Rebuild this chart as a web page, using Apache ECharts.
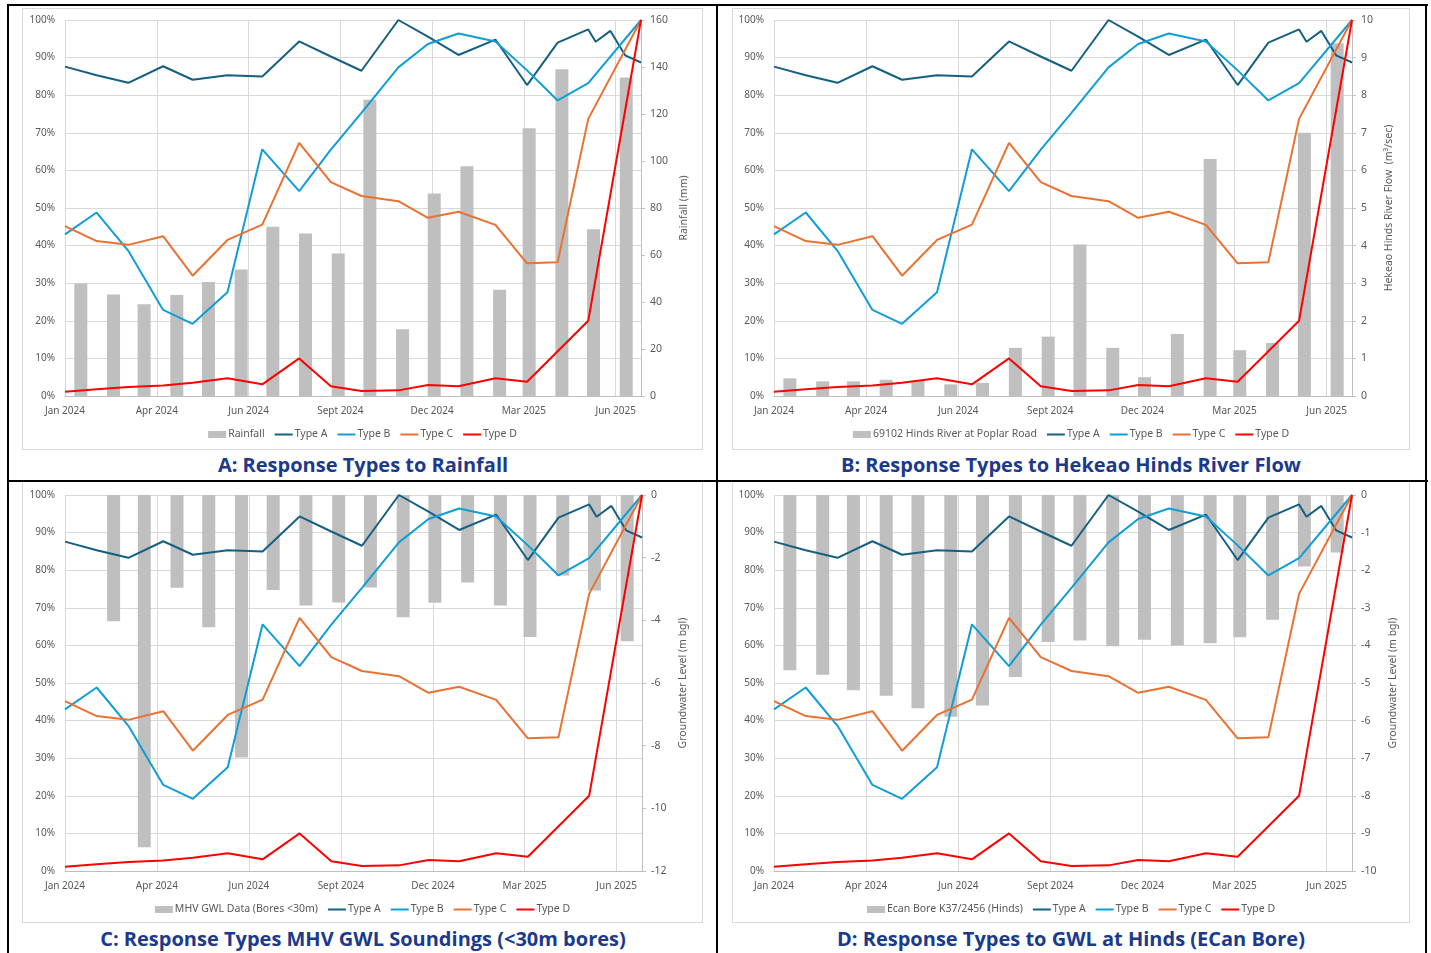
<!DOCTYPE html>
<html>
<head>
<meta charset="utf-8">
<script src="https://cdn.jsdelivr.net/npm/echarts@6/dist/echarts.min.js"></script>
<style>
  html, body { margin: 0; padding: 0; background: #ffffff; }
  #page { position: relative; width: 1431px; height: 953px; overflow: hidden; background: #fff; }
  .rule { position: absolute; background: #000; }
  .box { position: absolute; border: 1px solid #d9d9d9; box-sizing: border-box; background: #fff; }
  .title { position: absolute; width: 700px; text-align: center; font-family: "Open Sans", "Noto Sans", sans-serif;
           font-weight: 700; font-size: 20px; color: #1b3a8c; line-height: 24px; white-space: nowrap; }
</style>
</head>
<body>
<div id="page">
  <div class="box" id="chartA" style="left:22px;top:8px;width:681px;height:442px;"></div>
  <div class="box" id="chartB" style="left:732px;top:8px;width:678px;height:442px;"></div>
  <div class="box" id="chartC" style="left:22px;top:481px;width:681px;height:442px;"></div>
  <div class="box" id="chartD" style="left:732px;top:481px;width:678px;height:442px;"></div>

  <div class="title" style="left:13px;top:453px;">A: Response Types to Rainfall</div>
  <div class="title" style="left:721px;top:453px;">B: Response Types to Hekeao Hinds River Flow</div>
  <div class="title" style="left:13px;top:927px;">C: Response Types MHV GWL Soundings (&lt;30m bores)</div>
  <div class="title" style="left:721px;top:927px;">D: Response Types to GWL at Hinds (ECan Bore)</div>

  <div class="rule" style="left:7px;top:4px;width:1421px;height:2px;"></div>
  <div class="rule" style="left:7px;top:480px;width:1421px;height:2px;"></div>
  <div class="rule" style="left:7px;top:4px;width:2px;height:949px;"></div>
  <div class="rule" style="left:716px;top:4px;width:2px;height:949px;"></div>
  <div class="rule" style="left:1425px;top:4px;width:2px;height:949px;"></div>
</div>
<script>
// ---------- data ----------
const xTickLabels = ['Jan 2024', 'Apr 2024', 'Jun 2024', 'Sept 2024', 'Dec 2024', 'Mar 2025', 'Jun 2025'];
const axisStartDate = '2024-01-05';
const axisEndDate = '2025-07-04';
const tickIntervalDays = 87;

// sampling dates of the response-type percentages
const lineDates = ['2024-01-05', '2024-02-04', '2024-03-05', '2024-04-07', '2024-05-05', '2024-06-07',
  '2024-07-10', '2024-08-14', '2024-09-13', '2024-10-12', '2024-11-16', '2024-12-14', '2025-01-12',
  '2025-02-16', '2025-03-18', '2025-04-16', '2025-05-15', '2025-05-22', '2025-06-05', '2025-06-19', '2025-07-04'];
const typeA = [87.6, 85.3, 83.3, 87.7, 84.1, 85.3, 85.0, 94.3, 90.3, 86.5, 100.0, 95.6, 90.7, 94.8, 82.7, 94.0, 97.5, 94.2, 97.1, 90.6, 88.7];
const typeB = [43.0, 48.8, 38.6, 22.9, 19.2, 27.6, 65.6, 54.5, 65.5, 75.3, 87.4, 93.6, 96.4, 94.3, 86.6, 78.6, 83.2, null, null, null, 100];
const typeC = [45.2, 41.2, 40.2, 42.5, 32.0, 41.5, 45.6, 67.3, 56.9, 53.2, 51.8, 47.4, 49.0, 45.5, 35.3, 35.6, 73.7, null, null, null, 100];
const typeD = [1.1, 1.8, 2.4, 2.8, 3.5, 4.7, 3.1, 10.0, 2.6, 1.3, 1.5, 2.9, 2.6, 4.7, 3.8, 11.9, 20.0, null, null, null, 100];

// monthly bar series
const monthDates = ['2024-01-20', '2024-02-20', '2024-03-20', '2024-04-20', '2024-05-20', '2024-06-20',
  '2024-07-20', '2024-08-20', '2024-09-20', '2024-10-20', '2024-11-20', '2024-12-20',
  '2025-01-20', '2025-02-20', '2025-03-20', '2025-04-20', '2025-05-20', '2025-06-20'];
const rainfall = [47.9, 43.2, 39.0, 43.0, 48.5, 53.8, 72.0, 69.2, 60.6, 126.1, 28.4, 86.2, 97.8, 45.2, 113.9, 139.0, 71.0, 135.5];
const riverFlow = [0.47, 0.39, 0.39, 0.43, 0.40, 0.31, 0.35, 1.28, 1.58, 4.03, 1.28, 0.50, 1.65, 6.30, 1.22, 1.41, 7.00, 9.38];
const mhvGwl = [null, -4.03, -11.24, -2.96, -4.22, -8.38, -3.03, -3.53, -3.43, -2.95, -3.90, -3.44, -2.79, -3.53, -4.53, -2.57, -3.05, -4.67];
const ecanBore = [-4.66, -4.78, -5.19, -5.34, -5.67, -5.90, -5.60, -4.84, -3.91, -3.87, -4.02, -3.85, -4.00, -3.94, -3.78, -3.32, -1.90, -1.53];

const typeNames = ['Type A', 'Type B', 'Type C', 'Type D'];
const typeColors = ['#156082', '#0f9ed5', '#e97132', '#ff0000'];

// ---------- helpers ----------
function dayOf(s) {
  const a = s.split('-').map(Number), b = axisStartDate.split('-').map(Number);
  return Math.round((Date.UTC(a[0], a[1] - 1, a[2]) - Date.UTC(b[0], b[1] - 1, b[2])) / 86400000);
}
function pairs(dates, vals) {
  const out = [];
  dates.forEach((d, i) => { if (vals[i] !== null && vals[i] !== undefined) out.push([dayOf(d), vals[i]]); });
  return out;
}

const FONT = '"Noto Sans", "Open Sans", sans-serif';
const GREY_TXT = '#595959';
const LINE_ICON = 'path://M0,0 L18,0 L18,2 L0,2 Z';

function makeOption(cfg) {
  const lineSeries = [typeA, typeB, typeC, typeD].map((vals, k) => ({
    name: typeNames[k], type: 'line', yAxisIndex: 0, symbol: 'none', showSymbol: false,
    lineStyle: { width: 2, color: typeColors[k] }, itemStyle: { color: typeColors[k] },
    data: pairs(lineDates, vals), z: 3
  }));
  return {
    animation: false,
    textStyle: { fontFamily: FONT },
    grid: cfg.grid,
    legend: {
      bottom: cfg.legendBottom, left: 'center', itemWidth: 18, itemHeight: 7, itemGap: 10,
      textStyle: { fontFamily: FONT, fontSize: 10.5, color: GREY_TXT, padding: [0, 0, 0, -3] },
      data: [{ name: cfg.barName, icon: 'rect' }].concat(typeNames.map(n => ({ name: n, icon: LINE_ICON })))
    },
    xAxis: {
      type: 'value', min: 0, max: dayOf(axisEndDate), interval: tickIntervalDays,
      axisLine: { show: true, onZero: false, lineStyle: { color: '#bfbfbf', width: 1 } },
      axisTick: { show: false },
      splitLine: { show: true, lineStyle: { color: '#d9d9d9', width: 1 } },
      axisLabel: {
        color: GREY_TXT, fontSize: 10, fontFamily: FONT, margin: 10, showMaxLabel: false,
        formatter: v => {
          const i = v / tickIntervalDays, r = Math.round(i);
          return (Math.abs(i - r) < 1e-6 && r < xTickLabels.length) ? xTickLabels[r] : '';
        }
      }
    },
    yAxis: [
      {
        type: 'value', position: 'left', min: 0, max: 100, interval: 10,
        axisLine: { show: false }, axisTick: { show: false },
        splitLine: { show: true, lineStyle: { color: '#d9d9d9', width: 1 } },
        axisLabel: { color: GREY_TXT, fontSize: 10, fontFamily: FONT, margin: 10, formatter: '{value}%' }
      },
      {
        type: 'value', position: 'right', min: cfg.rMin, max: cfg.rMax, interval: cfg.rInterval,
        name: cfg.rName, nameLocation: 'middle', nameRotate: 90, nameGap: cfg.nameGap,
        nameTextStyle: { color: GREY_TXT, fontSize: 10.5, fontFamily: FONT },
        axisLine: { show: true, lineStyle: { color: '#bfbfbf', width: 1 } },
        axisTick: { show: true, length: 4, lineStyle: { color: '#bfbfbf' } },
        splitLine: { show: false },
        axisLabel: { color: GREY_TXT, fontSize: 10.5, fontFamily: FONT, margin: 9 }
      }
    ],
    series: [{
      name: cfg.barName, type: 'bar', yAxisIndex: 1, barWidth: 13,
      itemStyle: { color: '#bfbfbf' }, data: pairs(monthDates, cfg.barValues), z: 2
    }].concat(lineSeries)
  };
}

const panels = [
  { id: 'chartA', barName: 'Rainfall', barValues: rainfall, rMin: 0, rMax: 160, rInterval: 20,
    rName: 'Rainfall (mm)', nameGap: 34, grid: { left: 42, right: 61, top: 11, bottom: 53 }, legendBottom: 4 },
  { id: 'chartB', barName: '69102 Hinds River at Poplar Road', barValues: riverFlow, rMin: 0, rMax: 10, rInterval: 1,
    rName: 'Hekeao Hinds River Flow  (m³/sec)', nameGap: 31, grid: { left: 41, right: 57, top: 11, bottom: 53 }, legendBottom: 4 },
  { id: 'chartC', barName: 'MHV GWL Data (Bores <30m)', barValues: mhvGwl, rMin: -12, rMax: 0, rInterval: 2,
    rName: 'Groundwater Level (m bgl)', nameGap: 32, grid: { left: 42, right: 60, top: 13, bottom: 51 }, legendBottom: 2 },
  { id: 'chartD', barName: 'Ecan Bore K37/2456 (Hinds)', barValues: ecanBore, rMin: -10, rMax: 0, rInterval: 1,
    rName: 'Groundwater Level (m bgl)', nameGap: 31, grid: { left: 41, right: 57, top: 13, bottom: 51 }, legendBottom: 2 }
];

panels.forEach(p => {
  const chart = echarts.init(document.getElementById(p.id), null, { renderer: 'canvas' });
  chart.setOption(makeOption(p));
});
</script>
</body>
</html>
